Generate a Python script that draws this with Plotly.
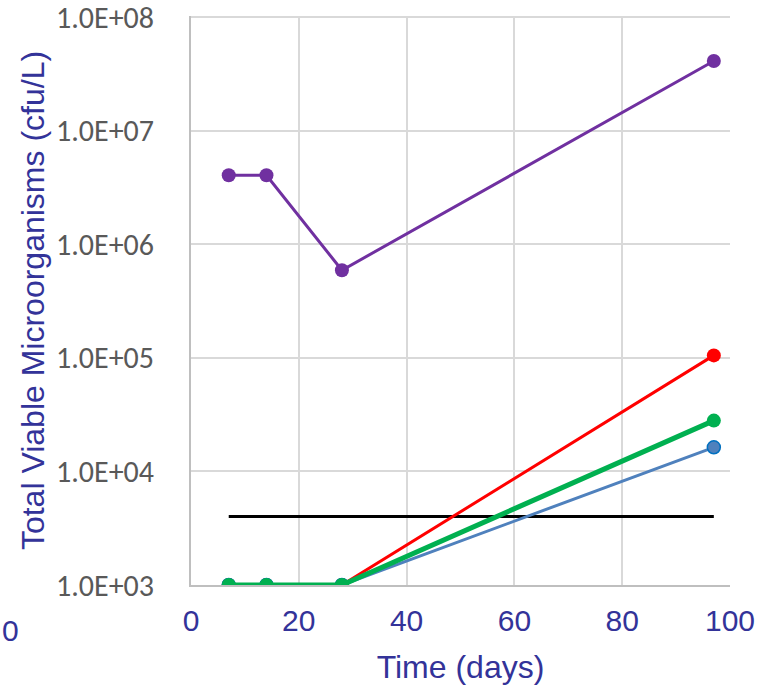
import plotly.graph_objects as go

# Sampling days and total viable counts (cfu/L)
days = [7, 14, 28, 97]
series_purple = [4.05e6, 4.05e6, 5.9e5, 4.1e7]
series_red = [1.0e3, 1.0e3, 1.0e3, 1.05e5]
series_blue = [1.0e3, 1.0e3, 1.0e3, 1.63e4]
series_green = [1.0e3, 1.0e3, 1.0e3, 2.8e4]
limit_days = [7, 97]
limit_value = [4.0e3, 4.0e3]

y_tickvals = [1e3, 1e4, 1e5, 1e6, 1e7, 1e8]
y_ticktext = ["1.0E+03", "1.0E+04", "1.0E+05", "1.0E+06", "1.0E+07", "1.0E+08"]
x_tickvals = [0, 20, 40, 60, 80, 100]

navy = "#333399"
clear = "rgba(0,0,0,0)"

fig = go.Figure()

fig.add_trace(go.Scatter(x=limit_days, y=limit_value, mode="lines",
                         line=dict(color="#000000", width=3)))
fig.add_trace(go.Scatter(x=days, y=series_purple, mode="lines+markers",
                         line=dict(color="#7030A0", width=3),
                         marker=dict(color="#7030A0", size=14)))
fig.add_trace(go.Scatter(x=days, y=series_red, mode="lines+markers",
                         line=dict(color="#FF0000", width=3),
                         marker=dict(color="#FF0000", size=14)))
fig.add_trace(go.Scatter(x=days, y=series_blue, mode="lines+markers",
                         line=dict(color="#4F81BD", width=3),
                         marker=dict(color="#4F81BD", size=13,
                                     line=dict(color="#0070C0", width=1.5))))
fig.add_trace(go.Scatter(x=days, y=series_green, mode="lines+markers",
                         line=dict(color="#00B050", width=5),
                         marker=dict(color="#00B050", size=14)))

fig.update_layout(
    width=762, height=690,
    margin=dict(l=191, r=32, t=16, b=105),
    paper_bgcolor="white", plot_bgcolor="white",
    showlegend=False,
    xaxis=dict(range=[0, 100], tickvals=x_tickvals, automargin=False,
               showgrid=True, gridcolor="#D9D9D9", gridwidth=2,
               showline=True, linecolor="#BFBFBF", linewidth=2,
               zeroline=False, ticks="outside", ticklen=8, tickcolor=clear,
               ticklabeloverflow="allow",
               tickfont=dict(family="Liberation Sans", size=30, color=navy),
               title=dict(text="Time (days)", standoff=20,
                          font=dict(family="Liberation Sans", size=32, color=navy))),
    yaxis=dict(type="log", range=[3, 8.009], tickvals=y_tickvals, ticktext=y_ticktext,
               automargin=False, ticklabeloverflow="allow",
               showgrid=True, gridcolor="#D9D9D9", gridwidth=2,
               showline=True, linecolor="#BFBFBF", linewidth=2,
               zeroline=False, ticks="outside", ticklen=29, tickcolor=clear,
               tickfont=dict(family="Carlito, Liberation Sans Narrow", size=30, color="#595959"),
               title=dict(text="Total Viable Microorganisms (cfu/L)", standoff=2,
                          font=dict(family="Liberation Sans", size=32, color=navy))),
    annotations=[dict(text="0", xref="paper", yref="paper",
                      x=(10 - 191) / 539, y=-45 / 569,
                      xanchor="center", yanchor="middle", showarrow=False,
                      font=dict(family="Liberation Sans", size=30, color=navy))],
)

fig.write_html("out.html")
